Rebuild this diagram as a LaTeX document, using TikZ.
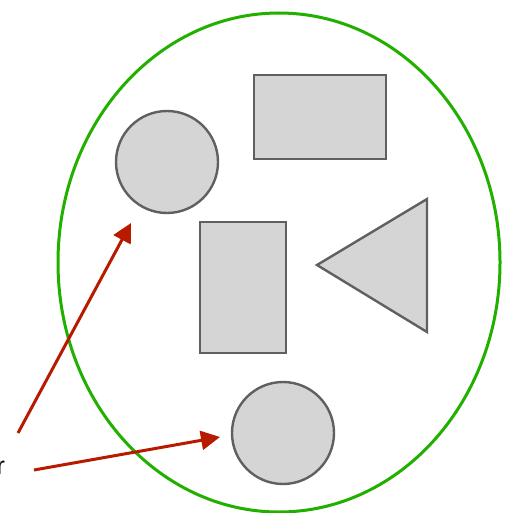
\documentclass[tikz,border=0pt]{standalone}
\usepackage{fontspec}
\setmainfont{Liberation Sans}
\usetikzlibrary{arrows.meta}
\definecolor{grn}{HTML}{22B000}
\definecolor{shapegray}{HTML}{606060}
\definecolor{shapefill}{HTML}{D5D5D5}
\definecolor{arrred}{HTML}{B81A00}
\begin{document}
\begin{tikzpicture}[x=1pt,y=-1pt,
  shapestyle/.style={draw=shapegray,fill=shapefill,line width=2.4pt},
  pointer/.style={draw=arrred,line width=3pt,-{Triangle[length=19pt,width=19pt]}}]
\useasboundingbox (0,0) rectangle (506,513);
\draw[grn,line width=3pt] (279,262.5) ellipse [x radius=221, y radius=249.5];
\node[shapestyle,circle,minimum size=102pt,inner sep=0pt] (c1) at (167,162) {};
\node[shapestyle,rectangle,minimum width=132pt,minimum height=84pt,inner sep=0pt] (r1) at (320,117) {};
\node[shapestyle,rectangle,minimum width=86pt,minimum height=131pt,inner sep=0pt] (r2) at (243,287.5) {};
\draw[shapestyle,line join=miter] (317,265) coordinate (t1) -- (427,199) coordinate (t2) -- (427,332) coordinate (t3) -- cycle;
\node[shapestyle,circle,minimum size=102pt,inner sep=0pt] (c2) at (283,433) {};
\node[anchor=base west,inner sep=0pt,font=\fontsize{25}{30}\selectfont] (lbl) at (-3.5,474) {r};
\coordinate (s1) at (18,433);
\coordinate (e1) at (131,223);
\coordinate (s2) at (34,470);
\coordinate (e2) at (220,437);
\draw[pointer] (s1) -- (e1);
\draw[pointer] (s2) -- (e2);
\end{tikzpicture}
\end{document}
